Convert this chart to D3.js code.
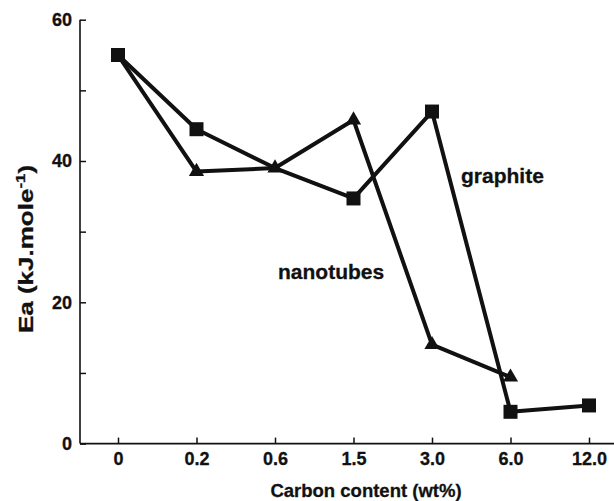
<!DOCTYPE html>
<html>
<head>
<meta charset="utf-8">
<script src="https://cdn.jsdelivr.net/npm/d3@7"></script>
<style>
  html, body { margin: 0; padding: 0; background: #fff; }
  svg { display: block; font-family: "Liberation Sans", Arial, Helvetica, sans-serif; font-weight: bold; }
  svg text { stroke: #111; stroke-width: 0.3px; }
</style>
</head>
<body>
<svg id="chart" width="614" height="501"></svg>
<script>
// ---- data ----
const categories = ["0", "0.2", "0.6", "1.5", "3.0", "6.0", "12.0"];
const graphite = [55, 44.5, 39, 34.7, 47, 4.5, 5.4];
const nanotubes = [55, 38.5, 39, 45.8, 14, 9.4, null];
const yTickValues = [0, 10, 20, 30, 40, 50, 60];
const yTickLabels = ["0", "", "20", "", "40", "", "60"];
const graphiteHidden = ["0.6"];   // marker covered by triangle
const nanotubesHidden = ["0"];    // marker covered by square
const seriesLabels = ["graphite", "nanotubes"];
const xTitle = "Carbon content (wt%)";

// ---- layout ----
const svg = d3.select("#chart");
const ink = "#111";
const mLeft = 80, mRight = 614, mTop = 19.7, mBottom = 443.6;

const x = d3.scalePoint().domain(categories).range([118, 589]);
const y = d3.scaleLinear().domain([0, 60]).range([mBottom, mTop]);

// axes
const xAxis = d3.axisBottom(x).tickSizeInner(-6).tickSizeOuter(0).tickPadding(9);
const gx = svg.append("g").attr("transform", `translate(0,${mBottom})`).call(xAxis);
gx.select(".domain").remove();
gx.selectAll(".tick line").attr("stroke", ink).attr("stroke-width", 1.5);
gx.selectAll(".tick text").attr("fill", ink).attr("font-size", 18);
gx.attr("font-family", null).attr("font-size", null);

const yAxis = d3.axisLeft(y).tickValues(yTickValues)
  .tickFormat((d, i) => yTickLabels[i]).tickSizeInner(-6).tickSizeOuter(0).tickPadding(8);
const gy = svg.append("g").attr("transform", `translate(${mLeft},0)`).call(yAxis);
gy.select(".domain").remove();
gy.selectAll(".tick line").attr("stroke", ink).attr("stroke-width", 1.5);
gy.selectAll(".tick text").attr("fill", ink).attr("font-size", 18);
gy.attr("font-family", null).attr("font-size", null);

svg.append("line").attr("x1", mLeft).attr("x2", mLeft).attr("y1", y(60)).attr("y2", mBottom)
  .attr("stroke", ink).attr("stroke-width", 1.6);
svg.append("line").attr("x1", mLeft).attr("x2", mRight).attr("y1", mBottom).attr("y2", mBottom)
  .attr("stroke", ink).attr("stroke-width", 1.6);

// lines
const line = d3.line().defined(d => d.v != null).x(d => x(d.c)).y(d => y(d.v));
const gData = categories.map((c, i) => ({ c, v: graphite[i] }));
const nData = categories.map((c, i) => ({ c, v: nanotubes[i] }));

svg.append("path").datum(nData).attr("d", line).attr("fill", "none")
  .attr("stroke", ink).attr("stroke-width", 4).attr("stroke-linejoin", "round");
svg.append("path").datum(gData).attr("d", line).attr("fill", "none")
  .attr("stroke", ink).attr("stroke-width", 4).attr("stroke-linejoin", "round");

// markers
const tri = d3.symbol().type(d3.symbolTriangle).size(100);
const sq = d3.symbol().type(d3.symbolSquare).size(196);

svg.append("g").selectAll("path")
  .data(nData.filter(d => d.v != null && !nanotubesHidden.includes(d.c)))
  .join("path").attr("d", tri)
  .attr("transform", d => `translate(${x(d.c)},${y(d.v)})`).attr("fill", ink);

svg.append("g").selectAll("path")
  .data(gData.filter(d => d.v != null && !graphiteHidden.includes(d.c)))
  .join("path").attr("d", sq)
  .attr("transform", d => `translate(${x(d.c)},${y(d.v)})`).attr("fill", ink);

// series labels
svg.append("text").attr("x", 461).attr("y", 183).attr("font-size", 21).attr("fill", ink)
  .text(seriesLabels[0]);
svg.append("text").attr("x", 278).attr("y", 279).attr("font-size", 21).attr("fill", ink)
  .text(seriesLabels[1]);

// axis titles
svg.append("text").attr("x", 366).attr("y", 497).attr("text-anchor", "middle")
  .attr("font-size", 18.5).attr("fill", ink).text(xTitle);

const yt = svg.append("text").attr("text-anchor", "middle").attr("font-size", 20).attr("fill", ink)
  .attr("transform", "translate(33,249) rotate(-90) scale(1.3,1)");
yt.append("tspan").text("Ea (kJ.mole");
yt.append("tspan").attr("font-size", 13).attr("dy", -8).text("-1");
yt.append("tspan").attr("dy", 8).text(")");
</script>
</body>
</html>
